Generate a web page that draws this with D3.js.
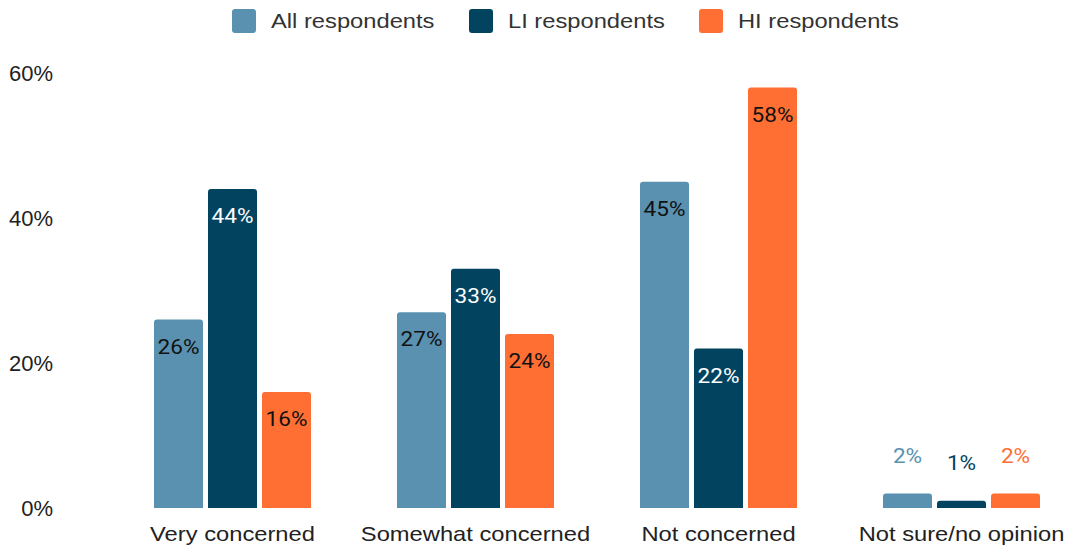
<!DOCTYPE html>
<html><head><meta charset="utf-8">
<script src="https://cdn.jsdelivr.net/npm/d3@7"></script>
<style>body{margin:0;background:#fff}svg{display:block}</style>
</head><body><svg id="c" width="1065" height="547"></svg>
<script>
const categories = ["Very concerned","Somewhat concerned","Not concerned","Not sure/no opinion"];
const seriesNames = ["All respondents","LI respondents","HI respondents"];
const allValues = [26,27,45,2];
const liValues = [44,33,22,1];
const hiValues = [16,24,58,2];
const yTicks = [0,20,40,60];
const colors = ["#5A91B0","#02445F","#FF6F33"];
const labelColors = ["#111","#fff","#111"];

const values = [allValues, liValues, hiValues];
const SX = 1.13; // horizontal stretch of text in the reference
const svg = d3.select("#c");
const x0 = d3.scaleBand().domain(categories).range([111,1083]).paddingInner(0).paddingOuter(0);
const x1 = d3.scaleBand().domain(seriesNames).range([0,x0.bandwidth()]).paddingInner(0.0926).paddingOuter(0.796);
const y = d3.scaleLinear().domain([0,60]).range([508,73]);

function stretchText(sel, anchorX, baseY){
  sel.each(function(){
    const t = d3.select(this);
    t.attr("transform",`translate(${anchorX},${baseY}) scale(${SX},1)`);
  });
}

// y axis labels
const ya = svg.append("g").attr("transform","translate(53,0)")
  .call(d3.axisLeft(y).tickValues(yTicks).tickFormat(d=>d+"%").tickSize(0).tickPadding(0));
ya.select(".domain").remove();
ya.selectAll("text").attr("font-family","Liberation Sans, Arial, sans-serif").attr("font-size",22).attr("fill","#222")
  .attr("x",0).attr("dy","0.36em");

// x axis labels
const xa = svg.append("g").attr("transform","translate(0,508)")
  .call(d3.axisBottom(x0).tickSize(0).tickPadding(0));
xa.select(".domain").remove();
xa.selectAll("text").attr("font-family","Liberation Sans, Arial, sans-serif").attr("font-size",21).attr("fill","#222")
  .attr("y",0).attr("dy",null).attr("transform",`translate(0,33) scale(${SX},1)`);

function topRounded(x,yTop,w,h,r){
  r=Math.min(r,h,w/2);
  return `M${x},${yTop+h}V${yTop+r}Q${x},${yTop} ${x+r},${yTop}H${x+w-r}Q${x+w},${yTop} ${x+w},${yTop+r}V${yTop+h}Z`;
}

categories.forEach((cat,ci)=>{
  const g = svg.append("g").attr("transform",`translate(${x0(cat)},0)`);
  seriesNames.forEach((s,si)=>{
    const v = values[si][ci];
    const bx = x1(s), bw = x1.bandwidth();
    const yt = y(v), h = y(0)-y(v);
    g.append("path").attr("d",topRounded(bx,yt,bw,h,3)).attr("fill",colors[si]);
    const inside = v >= 5;
    g.append("text").attr("text-anchor","middle").attr("font-family","Roboto, sans-serif").attr("font-size",20)
      .attr("transform",`translate(${bx+bw/2},${inside ? yt+34 : yt-31}) scale(${SX},1)`)
      .attr("fill", inside ? labelColors[si] : colors[si]).text(v+"%");
  });
});

// legend
const legX = [232,469,699];
seriesNames.forEach((s,i)=>{
  svg.append("rect").attr("x",legX[i]).attr("y",9).attr("width",24).attr("height",24).attr("rx",3).attr("fill",colors[i]);
  svg.append("text").attr("transform",`translate(${legX[i]+39},28) scale(${SX},1)`).attr("font-family","Liberation Sans, Arial, sans-serif")
    .attr("font-size",21).attr("fill","#333").text(s);
});
</script></body></html>
